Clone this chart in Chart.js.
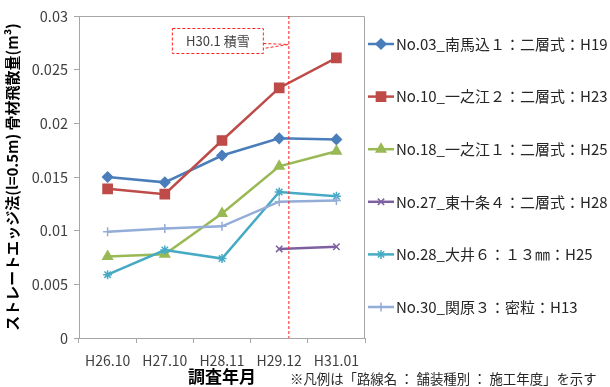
<!DOCTYPE html>
<html lang="ja">
<head>
<meta charset="utf-8">
<script src="https://cdn.jsdelivr.net/npm/chart.js@4"></script>
<style>
  html, body { margin: 0; padding: 0; background: #fff; }
  #wrap { width: 610px; height: 387px; }
</style>
</head>
<body>
<div id="wrap"><canvas id="myChart" width="610" height="387"></canvas></div>
<script>
'use strict'

// Survey data

let surveyDates = ['H26.10', 'H27.10', 'H28.11', 'H29.12', 'H31.01'];
let yTicks = [0, 0.005, 0.01, 0.015, 0.02, 0.025, 0.03];

let sectionNames = [
  'No.03_南馬込１：二層式：H19',
  'No.10_一之江２：二層式：H23',
  'No.18_一之江１：二層式：H25',
  'No.27_東十条４：二層式：H28',
  'No.28_大井６：１３㎜：H25',
  'No.30_関原３：密粒：H13'
];

let no03 = [0.0150, 0.0145, 0.0170, 0.0186, 0.0185];
let no10 = [0.0139, 0.0134, 0.0184, 0.0233, 0.0261];
let no18 = [0.0076, 0.0078, 0.0116, 0.0160, 0.0174];
let no27 = [null, null, null, 0.0083, 0.0085];
let no28 = [0.0059, 0.0082, 0.0074, 0.0136, 0.0132];
let no30 = [0.0099, 0.0102, 0.0104, 0.0127, 0.0128];

// snow event (H30.1) sits a little after the H29.12 survey
let snowLabel = 'H30.1 積雪';
let snowIndex = 3.16;

let noteText = '※凡例は「路線名 ： 舗装種別 ： 施工年度」を示す';

const FONT = '"Noto Sans CJK JP", "Noto Sans", sans-serif';

// Series styles

let colors = ['#4a7ebb', '#be4b48', '#98b954', '#7d60a0', '#46aac5', '#93acd8'];
let markers = ['rectRot', 'rect', 'triangle', 'crossRot', 'star', 'cross'];
let markerSizes = [5, 6.5, 5.5, 4.5, 4.5, 4.5];
let seriesValues = [no03, no10, no18, no27, no28, no30];

let datasets = [];
for (let i = 0; i < seriesValues.length; i++) {
  datasets.push({
    label: sectionNames[i],
    data: seriesValues[i],
    borderColor: colors[i],
    backgroundColor: colors[i],
    borderWidth: 2.5,
    pointStyle: markers[i],
    pointRadius: markerSizes[i],
    pointBackgroundColor: colors[i],
    pointBorderColor: colors[i],
    pointBorderWidth: 1.5,
    tension: 0,
    spanGaps: false,
    order: seriesValues.length - i
  });
}

// Plot frame, snow marker and callout

const snowPlugin = {
  id: 'snowPlugin',
  afterDatasetsDraw(chart) {
    const ctx = chart.ctx;
    const area = chart.chartArea;
    const x = chart.scales.x.getPixelForValue(snowIndex);

    ctx.save();
    // frame on top / right
    ctx.strokeStyle = '#a6a6a6';
    ctx.lineWidth = 1;
    ctx.beginPath();
    ctx.moveTo(area.left, area.top + 0.5);
    ctx.lineTo(area.right - 0.5, area.top + 0.5);
    ctx.lineTo(area.right - 0.5, area.bottom);
    ctx.stroke();

    // vertical dashed line
    ctx.strokeStyle = '#ff2020';
    ctx.setLineDash([3, 2]);
    ctx.beginPath();
    ctx.moveTo(x + 0.5, area.top);
    ctx.lineTo(x + 0.5, area.bottom);
    ctx.stroke();

    // callout box
    const bx = x - 116, by = area.top + 12.5, bw = 91, bh = 25;
    ctx.fillStyle = '#fff';
    ctx.fillRect(bx, by, bw, bh);
    ctx.strokeRect(bx, by, bw, bh);
    ctx.beginPath();
    ctx.moveTo(bx + bw, by + 15);
    ctx.lineTo(x, by + 16);
    ctx.lineTo(bx + bw, by + 20);
    ctx.stroke();
    ctx.setLineDash([]);

    ctx.fillStyle = '#404040';
    ctx.font = '13px ' + FONT;
    ctx.textAlign = 'center';
    ctx.textBaseline = 'middle';
    ctx.fillText(snowLabel, bx + bw / 2, by + bh / 2);
    ctx.restore();
  }
};

// Legend on the right, line sample with marker

const sideLegend = {
  id: 'sideLegend',
  afterDraw(chart) {
    const ctx = chart.ctx;
    const left = chart.chartArea.right + 3;
    const top = 44;
    const gap = 52.6;

    chart.data.datasets.forEach((ds, i) => {
      const y = top + i * gap;
      ctx.save();
      ctx.strokeStyle = ds.borderColor;
      ctx.lineWidth = ds.borderWidth;
      ctx.beginPath();
      ctx.moveTo(left, y);
      ctx.lineTo(left + 26, y);
      ctx.stroke();

      ctx.fillStyle = ds.pointBackgroundColor;
      ctx.strokeStyle = ds.pointBorderColor;
      ctx.lineWidth = ds.pointBorderWidth;
      Chart.helpers.drawPoint(ctx, {
        pointStyle: ds.pointStyle,
        radius: ds.pointRadius,
        rotation: 0,
        borderWidth: ds.pointBorderWidth
      }, left + 13, y);

      ctx.fillStyle = '#262626';
      ctx.font = '15px ' + FONT;
      ctx.textAlign = 'left';
      ctx.textBaseline = 'middle';
      ctx.fillText(ds.label, left + 28, y);
      ctx.restore();
    });

    ctx.save();
    ctx.fillStyle = '#262626';
    ctx.font = '13.4px ' + FONT;
    ctx.textBaseline = 'middle';
    ctx.fillText(noteText, 290, 379);
    ctx.restore();
  }
};

const config = {
  type: 'line',
  data: {
    labels: surveyDates,
    datasets: datasets
  },
  options: {
    responsive: false,
    animation: false,
    devicePixelRatio: 1,
    layout: {
      padding: { left: 0, right: 245, top: 16, bottom: 0 }
    },
    plugins: {
      legend: { display: false },
      tooltip: { enabled: false }
    },
    scales: {
      x: {
        offset: true,
        grid: {
          offset: true,
          drawOnChartArea: false,
          tickLength: 5,
          color: '#a6a6a6'
        },
        border: { color: '#a6a6a6' },
        ticks: {
          font: { size: 14, family: FONT },
          color: '#404040',
          padding: 9,
          maxRotation: 0
        },
        title: {
          display: true,
          text: '調査年月',
          font: { size: 17, weight: 'bold', family: FONT },
          color: '#000',
          padding: 0
        },
        afterFit: s => { s.height = 49; }
      },
      y: {
        min: 0,
        max: 0.03,
        afterBuildTicks: s => { s.ticks = yTicks.map(v => ({ value: v })); },
        grid: {
          drawOnChartArea: false,
          tickLength: 5,
          color: '#a6a6a6'
        },
        border: { color: '#a6a6a6' },
        ticks: {
          font: { size: 14.5, family: FONT },
          color: '#404040',
          padding: 6,
          callback: v => String(v)
        },
        title: {
          display: true,
          text: 'ストレートエッジ法(l=0.5m) 骨材飛散量(m³)',
          font: { size: 15, weight: 'bold', family: FONT },
          color: '#000',
          padding: { top: 3, bottom: 0 }
        },
        afterFit: s => { s.width = 79; }
      }
    }
  },
  plugins: [snowPlugin, sideLegend]
};

const myChart = new Chart(document.getElementById('myChart'), config);
</script>
</body>
</html>
